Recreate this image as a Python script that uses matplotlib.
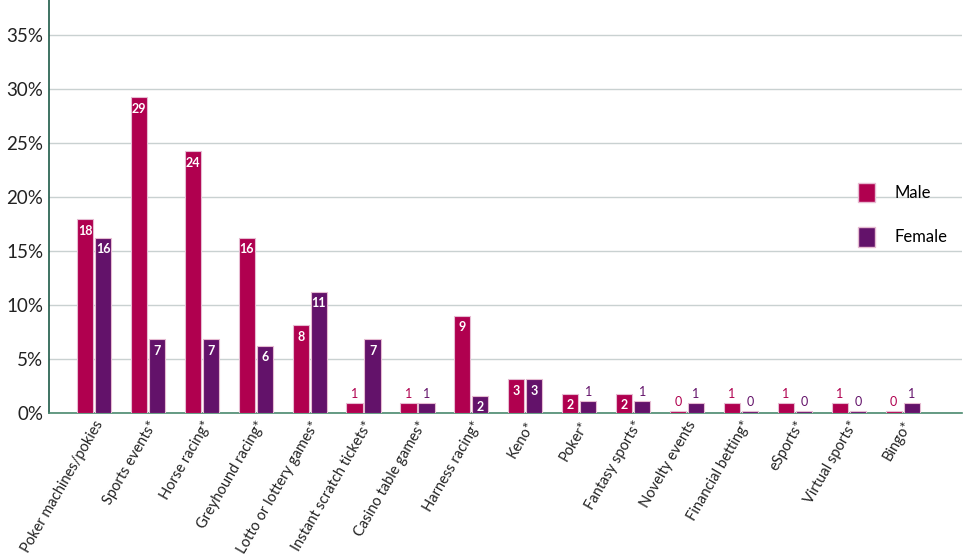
import numpy as np
import matplotlib
matplotlib.use("Agg")
from matplotlib import pyplot as plt
from matplotlib.patches import Patch

plt.rcParams['font.family'] = ['Lato', 'DejaVu Sans']

# categories and values (percent)
categories = ["Poker machines/pokies", "Sports events*", "Horse racing*",
              "Greyhound racing*", "Lotto or lottery games*",
              "Instant scratch tickets*", "Casino table games*",
              "Harness racing*", "Keno*", "Poker*", "Fantasy sports*",
              "Novelty events", "Financial betting*", "eSports*",
              "Virtual sports*", "Bingo*"]
male = [17.9, 29.2, 24.2, 16.2, 8.1, 0.9, 0.9, 9.0, 3.1, 1.8, 1.8,
        0.2, 0.9, 0.9, 0.9, 0.2]
female = [16.2, 6.8, 6.8, 6.2, 11.2, 6.8, 0.9, 1.6, 3.1, 1.1, 1.1,
          0.9, 0.2, 0.2, 0.2, 0.9]
male_lbl = [18, 29, 24, 16, 8, 1, 1, 9, 3, 2, 2, 0, 1, 1, 1, 0]
female_lbl = [16, 7, 7, 6, 11, 7, 1, 2, 3, 1, 1, 1, 0, 0, 0, 1]

c_male = "#b0004f"
c_female = "#63126a"
edge = "#e6bcd2"

fig = plt.figure(figsize=(9.69, 5.55), dpi=100)
ax = fig.add_axes([49/969, 1 - 413/555, 913/969, 413/555])

x = np.arange(len(categories))
w = 0.3
off = 0.167
bm = ax.bar(x - off, male, w, color=c_male, edgecolor=edge, linewidth=0.8, zorder=3)
bf = ax.bar(x + off, female, w, color=c_female, edgecolor=edge, linewidth=0.8, zorder=3)

def put_labels(bars, vals, lbls, col):
    for b, v, l in zip(bars, vals, lbls):
        cx = b.get_x() + b.get_width() / 2
        if v >= 1.5:
            ax.text(cx, v - 0.5, str(l), ha='center', va='top', color='white',
                    fontsize=9, fontweight='bold', zorder=4)
        else:
            ax.text(cx, v + 0.3, str(l), ha='center', va='bottom', color=col,
                    fontsize=9, zorder=4)

put_labels(bm, male, male_lbl, c_male)
put_labels(bf, female, female_lbl, c_female)

ax.set_xlim(-0.835, 16.1)
ax.set_ylim(0, 38.2)
ax.set_yticks(np.arange(0, 36, 5))
ax.set_yticklabels([f"{t}%" for t in range(0, 36, 5)], fontsize=13.5, color="#222222")
ax.yaxis.grid(True, color="#c9d1d1", linewidth=1.0, zorder=0)
ax.set_axisbelow(True)
ax.tick_params(axis='y', length=0, pad=4)
ax.tick_params(axis='x', length=0, pad=4)
ax.set_xticks(x)
ax.set_xticklabels(categories, rotation=60, ha='right', rotation_mode='anchor',
                   fontsize=10.5, color="#222222")

for s in ['top', 'right']:
    ax.spines[s].set_visible(False)
ax.spines['left'].set_color("#1e5a48")
ax.spines['bottom'].set_color("#4a8a6e")
ax.spines['left'].set_linewidth(1.2)
ax.spines['bottom'].set_linewidth(1.2)

handles = [Patch(facecolor=c_male, edgecolor=edge, label="Male"),
           Patch(facecolor=c_female, edgecolor=edge, label="Female")]
ax.legend(handles=handles, loc='center left', bbox_to_anchor=(0.87, 0.48),
          frameon=False, fontsize=12, handlelength=1.0, handleheight=1.4,
          labelspacing=1.5, handletextpad=1.2)

fig.savefig("out.png", dpi=100)
